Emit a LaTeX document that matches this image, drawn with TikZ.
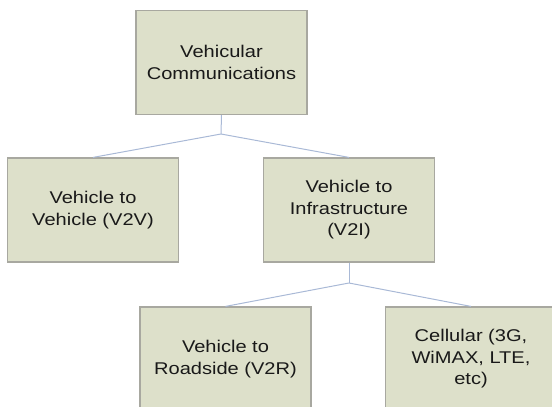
\documentclass[tikz,border=0pt]{standalone}
\usepackage{fontspec}
\setmainfont{Liberation Sans}[FakeStretch=1.18]
\definecolor{boxfill}{HTML}{DDE0CA}
\definecolor{boxline}{HTML}{A8A8A0}
\definecolor{linkcol}{HTML}{A9B9D6}
\begin{document}
\begin{tikzpicture}[x=1pt,y=-1pt,
  catbox/.style={draw=boxline,line width=1.2pt,fill=boxfill,minimum width=171pt,minimum height=104pt,
    inner sep=0pt,align=center,font=\fontsize{17}{21.5}\selectfont,text=black!90},
  link/.style={draw=linkcol,line width=1pt}]
\useasboundingbox (0,0) rectangle (552,407);
\clip (0,0) rectangle (552,407);
\node[catbox] (vc) at (221.5,62.5) {Vehicular\\Communications};
\node[catbox] (v2v) at (93,210) {Vehicle to\\Vehicle (V2V)};
\node[catbox] (v2i) at (349,210) {Vehicle to\\Infrastructure\\(V2I)};
\node[catbox] (v2r) at (225.5,359) {Vehicle to\\Roadside (V2R)};
\node[catbox] (cell) at (471,359) {Cellular (3G,\\WiMAX, LTE,\\etc)};
\coordinate (j1) at (221,134);
\coordinate (j2) at (349,283);
\draw[link] (vc.south) -- (j1);
\draw[link] (j1) -- (v2v.north);
\draw[link] (j1) -- (v2i.north);
\draw[link] (v2i.south) -- (j2);
\draw[link] (j2) -- (v2r.north);
\draw[link] (j2) -- (cell.north);
\end{tikzpicture}
\end{document}
